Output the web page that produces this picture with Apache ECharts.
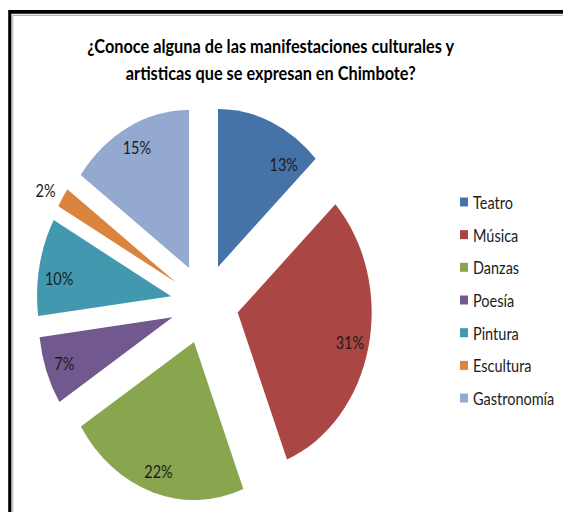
<!DOCTYPE html>
<html>
<head>
<meta charset="utf-8">
<script src="https://cdn.jsdelivr.net/npm/echarts@6/dist/echarts.min.js"></script>
<style>
  html, body { margin: 0; padding: 0; background: #ffffff; overflow: hidden; }
  #wrap { width: 563px; height: 512px; overflow: hidden; }
  /* the chart is laid out in a shorter box and stretched vertically */
  #chart { width: 563px; height: 434px; transform: scaleY(1.1797); transform-origin: 0 0; }
</style>
</head>
<body>
<div id="wrap"><div id="chart"></div></div>
<script>
const titleText = '¿Conoce alguna de las manifestaciones culturales y\nartisticas que se expresan en Chimbote?';
const categories = ['Teatro', 'Música', 'Danzas', 'Poesía', 'Pintura', 'Escultura', 'Gastronomía'];
const shares = [13, 31, 22, 7, 10, 2, 15];
const palette = ['#4572A7', '#AA4643', '#89A54E', '#71588F', '#4198AF', '#DB843D', '#93A9CF'];
const outsideLabels = ['Escultura'];
// best-fit shifts for individual percentage labels [dx, dy]
const labelShift = { Teatro: [20, 18], Pintura: [1, 6] };

const FONT = 'Lato, "Noto Sans", sans-serif';
const TEXT_COLOR = '#1c1c1c';

const chart = echarts.init(document.getElementById('chart'), null, { renderer: 'svg' });

const sliceData = categories.map((name, i) => ({
  name: name,
  value: shares[i],
  selected: true,
  itemStyle: { color: palette[i] }
}));

const labelData = categories.map((name, i) => {
  const item = { name: name, value: shares[i], selected: true };
  if (outsideLabels.indexOf(name) >= 0) {
    item.label = { position: 'outside', distanceToLabelLine: -3 };
    item.labelLine = { show: false, length: 12, length2: 0 };
  }
  return item;
});

const pieCommon = {
  type: 'pie',
  center: [204.5, 257.5],
  startAngle: 90,
  clockwise: true,
  selectedMode: 'multiple',
  selectedOffset: 34,
  avoidLabelOverlap: false,
  silent: true,
  emphasis: { disabled: true },
  animation: false
};

chart.setOption({
  backgroundColor: '#ffffff',
  animation: false,
  title: {
    text: titleText,
    left: 265.7,
    top: 22.3,
    textAlign: 'center',
    textVerticalAlign: 'top',
    textStyle: {
      fontFamily: FONT,
      fontWeight: 'bold',
      fontSize: 16.3,
      lineHeight: 23,
      color: '#000000'
    }
  },
  legend: {
    orient: 'vertical',
    left: 460,
    top: 163.2,
    padding: 0,
    itemWidth: 8,
    itemHeight: 7.6,
    itemGap: 11.7,
    icon: 'rect',
    selectedMode: false,
    data: categories,
    textStyle: {
      fontFamily: FONT,
      fontSize: 14.5,
      lineHeight: 16,
      color: TEXT_COLOR
    }
  },
  graphic: [
    {
      type: 'rect',
      silent: true,
      shape: { x: 9.8, y: 10, width: 700, height: 600 },
      style: { fill: null, stroke: '#000000', lineWidth: 3.2 }
    },
    {
      type: 'rect',
      silent: true,
      shape: { x: 12.8, y: 13, width: 700, height: 600 },
      style: { fill: null, stroke: '#b4b4b4', lineWidth: 1 }
    }
  ],
  series: [
    Object.assign({}, pieCommon, {
      name: 'slices',
      radius: 134,
      label: { show: false },
      labelLine: { show: false },
      itemStyle: { borderWidth: 0 },
      select: { itemStyle: { borderWidth: 0 } },
      data: sliceData
    }),
    Object.assign({}, pieCommon, {
      name: 'labels',
      radius: [90, 134],
      itemStyle: { color: 'rgba(0,0,0,0)', borderWidth: 0 },
      select: { itemStyle: { color: 'rgba(0,0,0,0)', borderWidth: 0 } },
      label: {
        show: true,
        position: 'inside',
        formatter: '{c}%',
        fontFamily: FONT,
        fontSize: 14.5,
        color: TEXT_COLOR
      },
      labelLine: { show: false },
      labelLayout: function (params) {
        const shift = labelShift[categories[params.dataIndex]];
        return shift ? { dx: shift[0], dy: shift[1] } : {};
      },
      data: labelData
    })
  ]
});
</script>
</body>
</html>
